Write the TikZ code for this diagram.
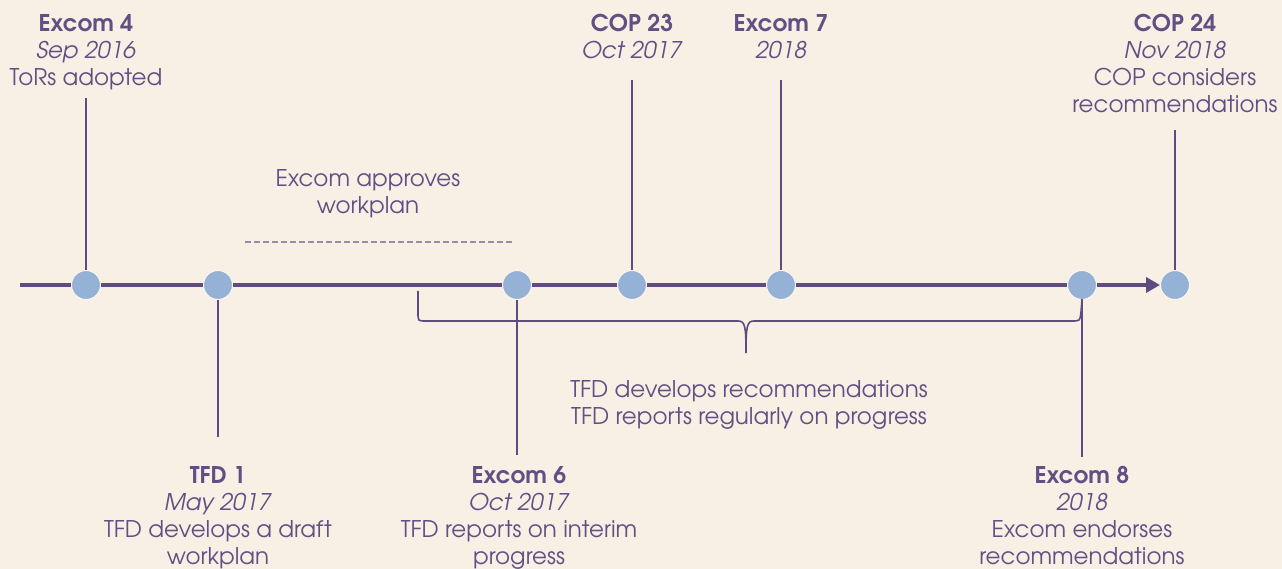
\documentclass[tikz,border=0pt]{standalone}
\usepackage{fontspec}
\setmainfont{TeX Gyre Adventor}
\usetikzlibrary{arrows.meta}
\definecolor{bg}{RGB}{248,240,228}
\definecolor{pline}{RGB}{94,76,128}
\definecolor{ptext}{RGB}{96,80,132}
\definecolor{dot}{RGB}{149,178,214}
\definecolor{dash}{RGB}{150,140,165}
\tikzset{
  lbl/.style={align=center, inner sep=0pt, text=ptext, font=\fontsize{23}{27}\selectfont},
  dotnode/.style={circle, fill=dot, draw=bg!60!white, line width=1pt, minimum size=29pt, inner sep=0pt},
  stem/.style={draw=pline, line width=2pt},
  brace/.style={draw=pline, line width=1.6pt},
}
\begin{document}
\begin{tikzpicture}[x=1pt,y=-1pt]
\useasboundingbox[fill=bg] (0,0) rectangle (1282,569);
% timeline
\coordinate (start) at (20,285);
\node[dotnode] (d1) at (86,285) {};
\node[dotnode] (d2) at (218,285) {};
\node[dotnode] (d3) at (517,285) {};
\node[dotnode] (d4) at (632,285) {};
\node[dotnode] (d5) at (781,285) {};
\node[dotnode] (d6) at (1082,285) {};
\node[dotnode] (d7) at (1175,285) {};
% labels
\node[lbl, anchor=north] (l1) at (86,14) {\textbf{Excom 4}\\\textit{Sep 2016}\\ToRs adopted};
\node[lbl, anchor=north] (l4) at (632,14) {\textbf{COP 23}\\\textit{Oct 2017}};
\node[lbl, anchor=north] (l5) at (781,14) {\textbf{Excom 7}\\\textit{2018}};
\node[lbl, anchor=north] (l7) at (1175,14) {\textbf{COP 24}\\\textit{Nov 2018}\\COP considers\\recommendations};
\node[lbl, anchor=north] (l2) at (218,466) {\textbf{TFD 1}\\\textit{May 2017}\\TFD develops a draft\\workplan};
\node[lbl, anchor=north] (l3) at (519,466) {\textbf{Excom 6}\\\textit{Oct 2017}\\TFD reports on interim\\progress};
\node[lbl, anchor=north] (l6) at (1082,466) {\textbf{Excom 8}\\\textit{2018}\\Excom endorses\\recommendations};
\node[lbl, anchor=north] (wp) at (368,169) {Excom approves\\workplan};
\node[lbl, anchor=north] (rec) at (749,380) {TFD develops recommendations\\TFD reports regularly on progress};
% stems
\coordinate (s1) at (86,98);
\coordinate (s4) at (632,80);
\coordinate (s5) at (781,80);
\coordinate (s7) at (1175,130);
\coordinate (s2) at (218,437);
\coordinate (s3) at (517,455);
\coordinate (s6) at (1082,457);
\draw[stem] (s1) -- (d1);
\draw[stem] (s4) -- (d4);
\draw[stem] (s5) -- (d5);
\draw[stem] (s7) -- (d7);
\draw[stem] (d2) -- (s2);
\draw[stem] (d3) -- (s3);
\draw[stem] (d6) -- (s6);
% dashed
\coordinate (da) at (245,242);
\coordinate (db) at (512,242);
\draw[draw=dash, line width=1.4pt, dash pattern=on 6pt off 3pt] (da) -- (db);
% main line
\draw[draw=pline, line width=4.5pt] (start) -- (d1) -- (d2) -- (d3) -- (d4) -- (d5) -- (d6);
\draw[draw=pline, line width=4.5pt, -{Triangle[length=14pt,width=15pt]}] (d6) -- (d7);
% brace
\coordinate (bl) at (418,291);
\coordinate (bt) at (746,353);
\coordinate (br) at (1082,299);
\draw[brace] (bl) -- (418,313) .. controls (418,321) .. (426,321) -- (738,321) .. controls (745,321) and (746,326) .. (bt);
\draw[brace] (bt) .. controls (746,326) and (747,321) .. (754,321) -- (1072,321) .. controls (1080,321) .. (1081,312) -- (br);
\end{tikzpicture}
\end{document}
